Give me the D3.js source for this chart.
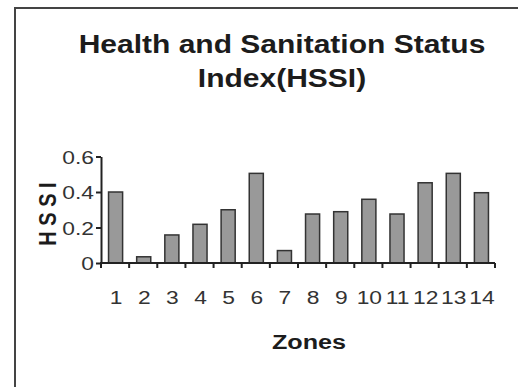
<!DOCTYPE html>
<html>
<head>
<meta charset="utf-8">
<script src="https://cdn.jsdelivr.net/npm/d3@7"></script>
<style>
  html, body { margin: 0; padding: 0; background: #fff; }
  svg text { font-family: "Liberation Sans", Arial, sans-serif; }
</style>
</head>
<body>
<svg id="chart" width="518" height="387"></svg>
<script>
// Health and Sanitation Status Index by zone
const zones = ["1","2","3","4","5","6","7","8","9","10","11","12","13","14"];
const hssi = [0.40, 0.035, 0.158, 0.218, 0.30, 0.505, 0.07, 0.276, 0.289, 0.359, 0.276, 0.452, 0.505, 0.396];
const yTicks = [0, 0.2, 0.4, 0.6];
const titleLines = ["Health and Sanitation Status", "Index(HSSI)"];
const xTitle = "Zones";
const yTitle = "H S S I";

// text in this chart is set slightly wide
const SX = 1.2;

const svg = d3.select("#chart");

// frame lines on the left and top
svg.append("line").attr("x1", 15).attr("x2", 15).attr("y1", 7).attr("y2", 387)
  .attr("stroke", "#444").attr("stroke-width", 2);
svg.append("line").attr("x1", 14).attr("x2", 518).attr("y1", 8).attr("y2", 8)
  .attr("stroke", "#444").attr("stroke-width", 2);

const plot = { left: 101, right: 495, top: 156.5, bottom: 263 };

const x = d3.scaleBand().domain(zones).range([plot.left, plot.right]).paddingInner(0).paddingOuter(0);
const y = d3.scaleLinear().domain([0, 0.6]).range([plot.bottom, plot.top]);

// title
svg.append("g").selectAll("text").data(titleLines).join("text")
  .attr("transform", (d, i) => `translate(282,${53 + i * 34}) scale(${SX},1)`)
  .attr("text-anchor", "middle")
  .attr("font-weight", "bold")
  .attr("font-size", 25)
  .attr("fill", "#1c1c1c")
  .text(d => d);

// bars
const barW = x.bandwidth() * 0.5;
svg.append("g").selectAll("rect").data(hssi).join("rect")
  .attr("x", (d, i) => x(zones[i]) + (x.bandwidth() - barW) / 2 + 0.5)
  .attr("y", d => y(d))
  .attr("width", barW)
  .attr("height", d => y(0) - y(d))
  .attr("fill", "#999")
  .attr("stroke", "#333")
  .attr("stroke-width", 1.5);

// y axis
const yAxis = svg.append("g").attr("transform", `translate(${plot.left},0)`)
  .call(d3.axisLeft(y).tickValues(yTicks).tickSize(5).tickSizeOuter(0)
    .tickFormat(d => d === 0 ? "0" : d3.format(".1f")(d)));
yAxis.select(".domain").attr("stroke", "#222").attr("stroke-width", 2);
yAxis.selectAll(".tick line").attr("stroke", "#222").attr("stroke-width", 2);
yAxis.selectAll(".tick text")
  .attr("x", -7 / SX)
  .attr("dy", "0.36em")
  .attr("transform", `scale(${SX},1)`)
  .attr("font-size", 19).attr("fill", "#333")
  .attr("font-family", "Liberation Sans, Arial, sans-serif");

// x axis with ticks at category boundaries
const xAxis = svg.append("g").attr("transform", `translate(0,${plot.bottom})`);
xAxis.append("line").attr("x1", plot.left - 1).attr("x2", plot.right).attr("y1", 0).attr("y2", 0)
  .attr("stroke", "#222").attr("stroke-width", 2);
const bounds = zones.map(z => x(z)).concat([x(zones[zones.length - 1]) + x.bandwidth()]);
xAxis.selectAll("line.tk").data(bounds).join("line").attr("class", "tk")
  .attr("x1", d => d).attr("x2", d => d).attr("y1", 0).attr("y2", 5)
  .attr("stroke", "#222").attr("stroke-width", 2);
xAxis.selectAll("text").data(zones).join("text")
  .attr("transform", d => `translate(${x(d) + x.bandwidth() / 2 + 1},41) scale(${SX},1)`)
  .attr("text-anchor", "middle")
  .attr("font-size", 19)
  .attr("fill", "#333")
  .text(d => d);

// axis titles
svg.append("text")
  .attr("transform", `translate(309,349) scale(${SX},1)`)
  .attr("text-anchor", "middle")
  .attr("font-weight", "bold").attr("font-size", 21).attr("fill", "#1c1c1c")
  .text(xTitle);
svg.append("text")
  .attr("transform", `translate(56,214) scale(${SX},1) rotate(-90)`)
  .attr("text-anchor", "middle")
  .attr("font-weight", "bold").attr("font-size", 20).attr("fill", "#1c1c1c")
  .text(yTitle);
</script>
</body>
</html>
